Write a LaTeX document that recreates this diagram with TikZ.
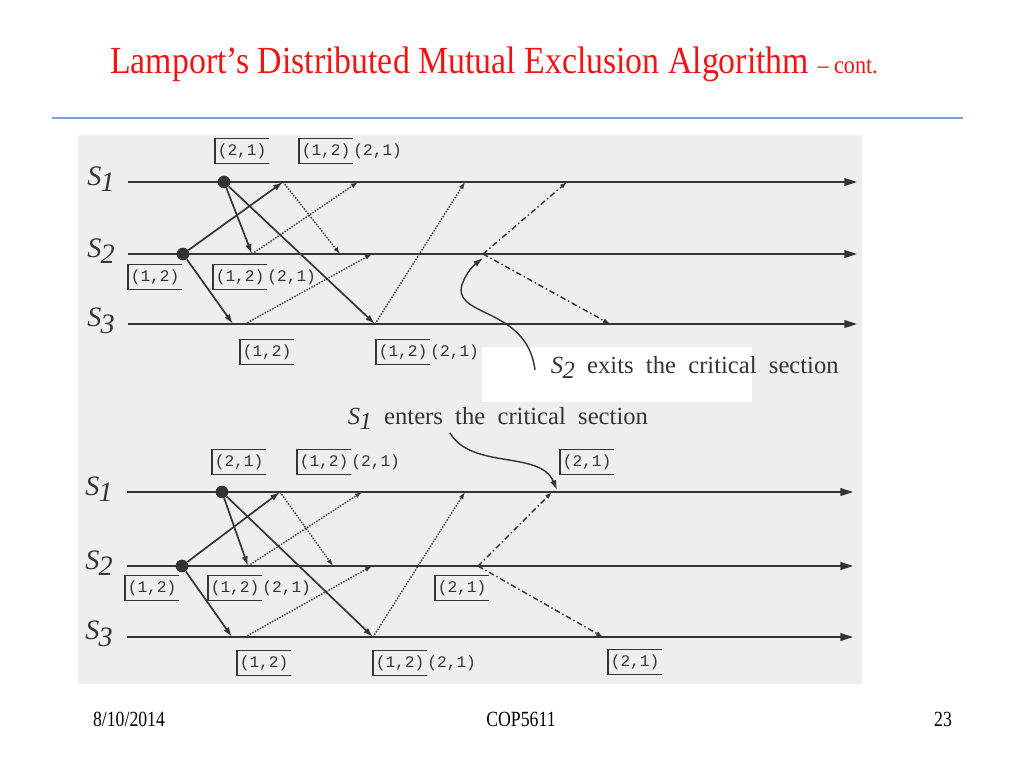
\documentclass[tikz,border=0pt]{standalone}
\usepackage{fontspec}
\setmainfont{Liberation Serif}
\setmonofont{Liberation Mono}
\usetikzlibrary{arrows.meta}
\definecolor{titlered}{RGB}{240,20,20}
\definecolor{ruleblue}{RGB}{120,160,232}
\definecolor{scangray}{RGB}{238,238,238}
\definecolor{ink}{RGB}{52,52,52}
\newcommand{\site}[1]{\textit{S}\kern-0.5pt\raisebox{-0.5ex}{\textit{#1}}}

\begin{document}
\begin{tikzpicture}[x=0.025cm, y=-0.025cm,
  tline/.style={draw=ink, line width=1.2pt, -{Triangle[length=9pt,width=5.5pt]}},
  req/.style={draw=ink, line width=1.2pt, -{Latex[length=7pt,width=4.5pt]}},
  rep/.style={draw=ink, line width=1pt, densely dotted, -{Latex[open,length=5pt,width=3.5pt]}},
  rel/.style={draw=ink, line width=1pt, dash pattern=on 4pt off 2pt on 1pt off 2pt,
    -{Latex[open,length=5pt,width=3.5pt]}},
  note/.style={draw=ink, line width=1pt, -{Latex[length=7pt,width=4.5pt]}},
  evdot/.style={circle, fill=ink, inner sep=0pt, minimum size=9pt},
  sitelbl/.style={text=ink, font=\fontsize{20}{20}\selectfont},
  captxt/.style={text=ink, anchor=base west, font=\fontsize{17.5}{17.5}\selectfont},
  qel/.style={text=ink, font=\ttfamily\fontsize{11.5}{11.5}\selectfont, anchor=west,
    inner xsep=1.8pt, inner ysep=0pt, minimum height=0.62cm},
  qline/.style={draw=ink, line width=1pt, -},
  qhd/.style={qel, append after command={
    (\tikzlastnode.north east) edge[qline] (\tikzlastnode.north west)
    (\tikzlastnode.north west) edge[qline] (\tikzlastnode.south west)
    (\tikzlastnode.south west) edge[qline] (\tikzlastnode.south east)}},
  qtl/.style={qel, inner xsep=0pt},
  foot/.style={anchor=base, font=\fontsize{14}{14}\selectfont}]
  \useasboundingbox (0,0) rectangle (1024,768);
  % slide head
  \node[anchor=base west, text=titlered, font=\fontsize{26}{26}\selectfont, inner sep=0pt]
    (ttl) at (110,74) {\scalebox{0.925}[1.05]{Lamport’s Distributed Mutual Exclusion Algorithm
    {\fontsize{17}{17}\selectfont – cont.}}};
  \coordinate (rl) at (52,118); \coordinate (rr) at (963,118);
  \draw[ruleblue, line width=1.2pt] (rl) -- (rr);
  % scanned figure
  \fill[scangray] (78,135) rectangle (862,684);
  \fill[white] (482,347) rectangle (752,402);

  % ---- upper run ----
  \foreach \y/\n in {182/1,254/2,324/3}{
    \node[sitelbl] (ut\n) at (101,\y-3) {\site{\n}};
    \coordinate (ub\n) at (128,\y); \coordinate (ue\n) at (857,\y);
    \draw[tline] (ub\n) -- (ue\n);}
  \node[evdot] (ur1) at (224,182) {};
  \node[evdot] (ur2) at (183,254) {};
  % REQUEST
  \coordinate (ua1) at (283,182); \coordinate (ua3) at (233,324);
  \coordinate (ub2) at (252,254); \coordinate (ub3) at (375,324);
  \draw[req] (ur2) -- (ua1); \draw[req] (ur2) -- (ua3);
  \draw[req] (ur1) -- (ub2); \draw[req] (ur1) -- (ub3);
  % REPLY
  \coordinate (uc2) at (340,254); \coordinate (uc1) at (358,182);
  \coordinate (ud3) at (245,324); \coordinate (ud2) at (372,254);
  \coordinate (ue1x) at (465,182);
  \draw[rep] (ua1) -- (uc2); \draw[rep] (ub2) -- (uc1);
  \draw[rep] (ud3) -- (ud2); \draw[rep] (ub3) -- (ue1x);
  % RELEASE
  \coordinate (ux2) at (483,254);
  \coordinate (uf1) at (567,182); \coordinate (uf3) at (610,324);
  \draw[rel] (ux2) -- (uf1); \draw[rel] (ux2) -- (uf3);
  % queues
  \node[qhd] (uq1) at (215,151) {(2,1)};
  \node[qhd] (uq2) at (299,151) {(1,2)};
  \node[qtl] at (uq2.east) {(2,1)};
  \node[qhd] (uq3) at (128,277) {(1,2)};
  \node[qhd] (uq4) at (213,277) {(1,2)};
  \node[qtl] at (uq4.east) {(2,1)};
  \node[qhd] (uq5) at (240,352) {(1,2)};
  \node[qhd] (uq6) at (376,352) {(1,2)};
  \node[qtl] at (uq6.east) {(2,1)};
  % S2 leaves
  \node[captxt] (ex) at (546,373) {\site{2} \ exits \ the \ critical \ section};
  \coordinate (exs) at (535,370); \coordinate (ext) at (483,258);
  \draw[note] (exs) .. controls (527,305) and (448,318) .. (463,282)
    .. controls (467,272) and (474,265) .. (ext);

  % ---- lower run ----
  \node[captxt] (en) at (343,424) {\site{1} \ enters \ the \ critical \ section};
  \foreach \y/\n in {492/1,566/2,637/3}{
    \node[sitelbl] (lt\n) at (99,\y-3) {\site{\n}};
    \coordinate (lb\n) at (127,\y); \coordinate (le\n) at (853,\y);
    \draw[tline] (lb\n) -- (le\n);}
  \node[evdot] (lr1) at (222,492) {};
  \node[evdot] (lr2) at (182,566) {};
  % REQUEST
  \coordinate (la1) at (280,492); \coordinate (la3) at (232,637);
  \coordinate (lbb2) at (248,566); \coordinate (lbb3) at (373,637);
  \draw[req] (lr2) -- (la1); \draw[req] (lr2) -- (la3);
  \draw[req] (lr1) -- (lbb2); \draw[req] (lr1) -- (lbb3);
  % REPLY
  \coordinate (lc2) at (333,566); \coordinate (lc1) at (362,492);
  \coordinate (ld3) at (245,637); \coordinate (ld2) at (372,566);
  \coordinate (le1x) at (465,492);
  \draw[rep] (la1) -- (lc2); \draw[rep] (lbb2) -- (lc1);
  \draw[rep] (ld3) -- (ld2); \draw[rep] (lbb3) -- (le1x);
  % RELEASE
  \coordinate (lx2) at (478,566);
  \coordinate (lf1) at (552,492); \coordinate (lf3) at (603,637);
  \draw[rel] (lx2) -- (lf1); \draw[rel] (lx2) -- (lf3);
  % S1 enters
  \coordinate (ens) at (450,433); \coordinate (ent) at (557,490);
  \draw[note] (ens) .. controls (472,470) and (540,450) .. (ent);
  % queues
  \node[qhd] (lq1) at (212,462) {(2,1)};
  \node[qhd] (lq2) at (297,462) {(1,2)};
  \node[qtl] at (lq2.east) {(2,1)};
  \node[qhd] (lq3) at (560,462) {(2,1)};
  \node[qhd] (lq4) at (125,588) {(1,2)};
  \node[qhd] (lq5) at (208,588) {(1,2)};
  \node[qtl] at (lq5.east) {(2,1)};
  \node[qhd] (lq6) at (435,588) {(2,1)};
  \node[qhd] (lq7) at (237,663) {(1,2)};
  \node[qhd] (lq8) at (373,663) {(1,2)};
  \node[qtl] at (lq8.east) {(2,1)};
  \node[qhd] (lq9) at (608,662) {(2,1)};

  % slide foot
  \node[foot] (fd) at (129,726) {\scalebox{0.9}[1.1]{8/10/2014}};
  \node[foot] (fc) at (521,726) {\scalebox{0.9}[1.1]{COP5611}};
  \node[foot] (fp) at (943,726) {\scalebox{0.9}[1.1]{23}};
\end{tikzpicture}
\end{document}
